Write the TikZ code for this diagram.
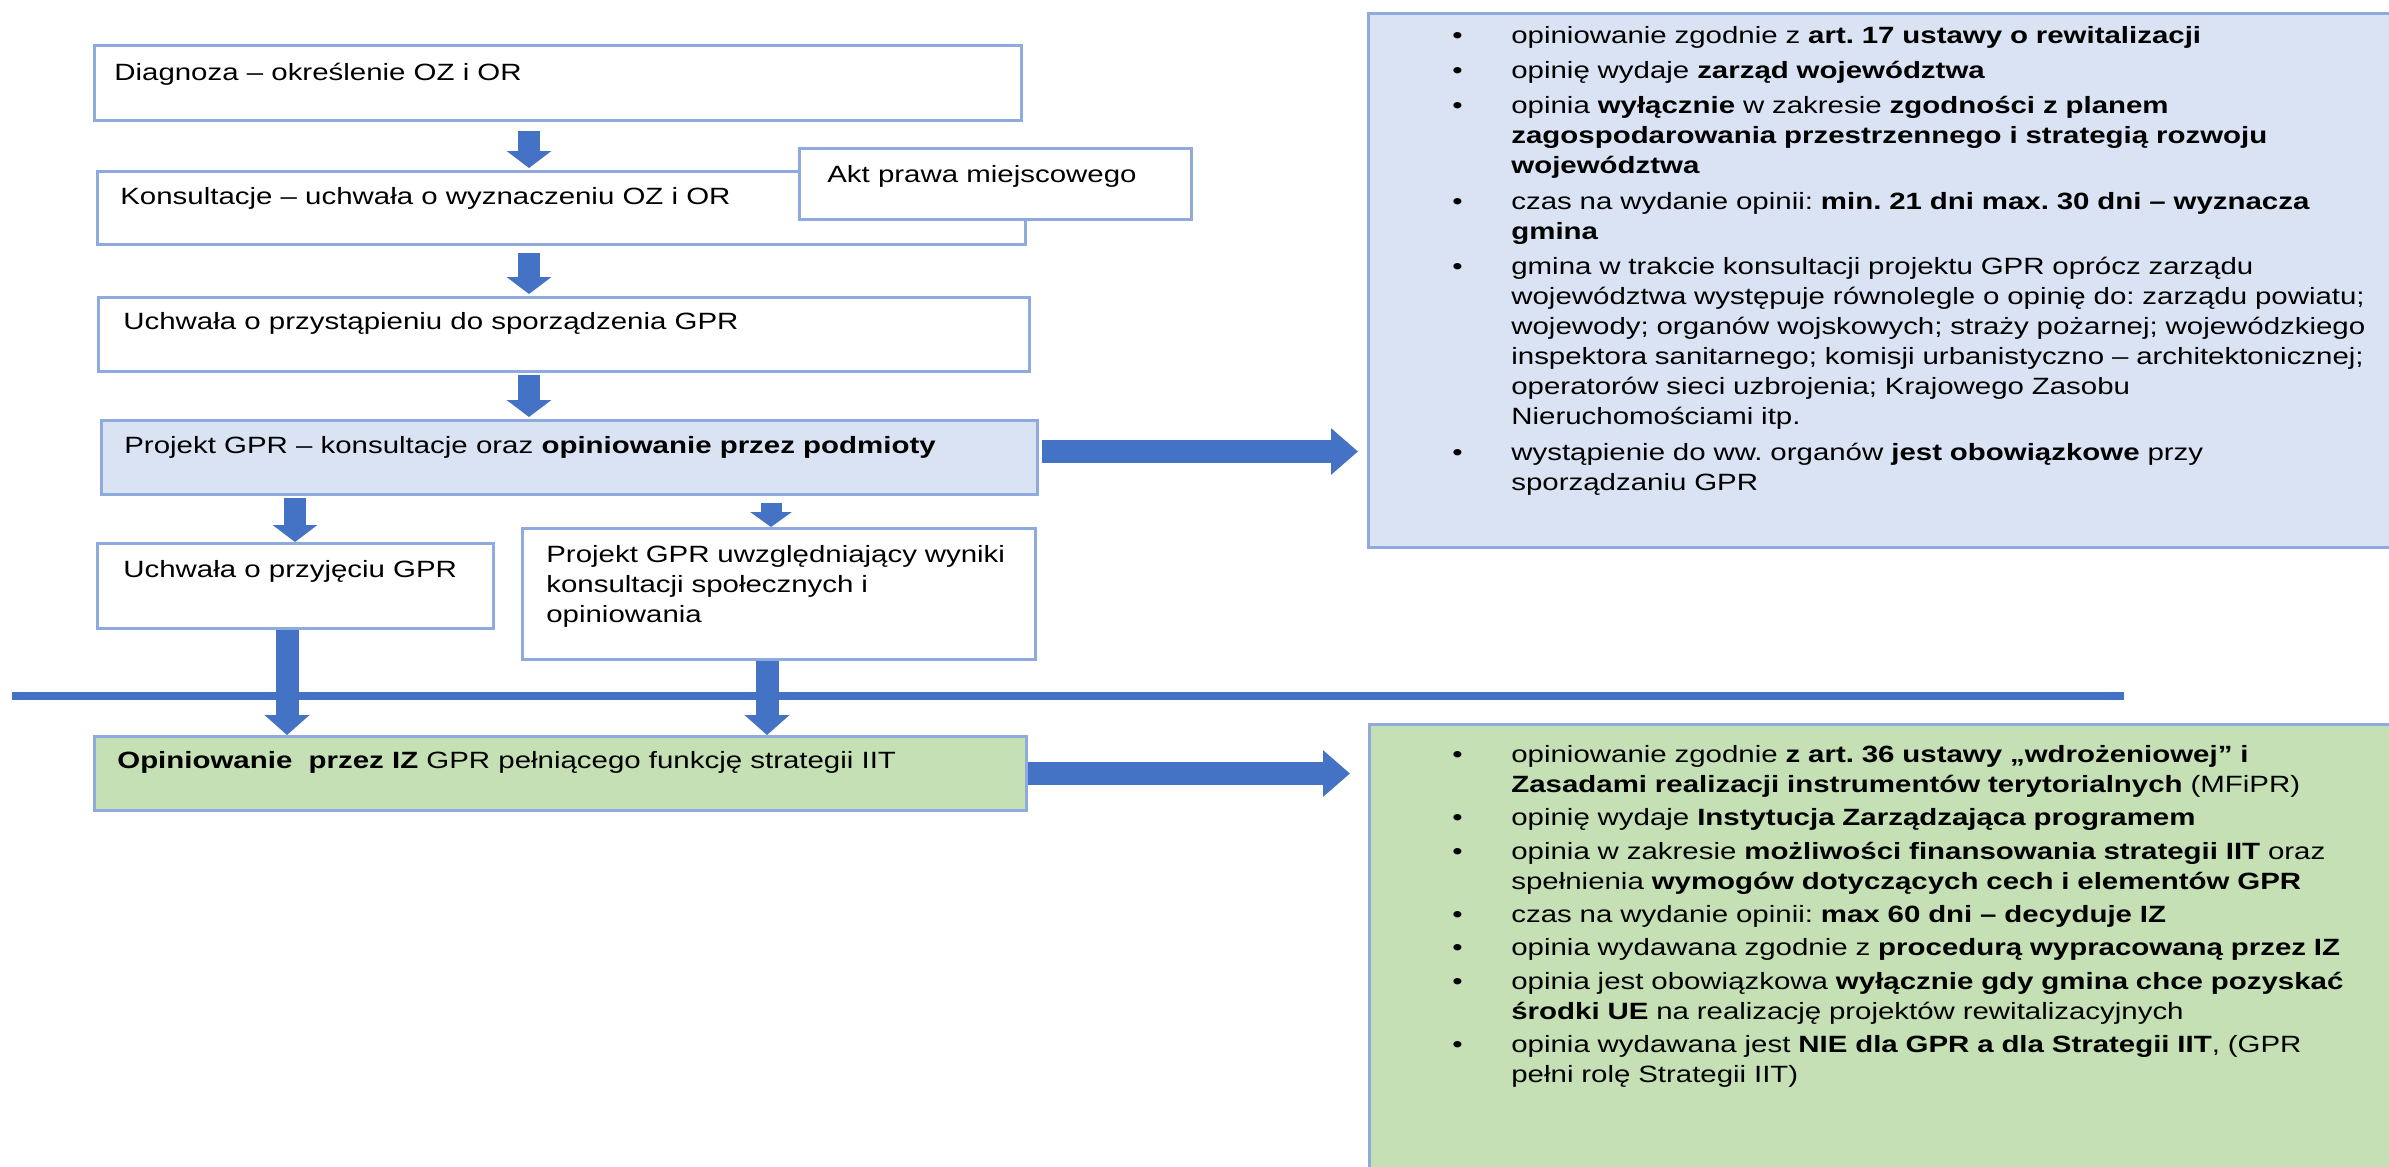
\documentclass[tikz,border=0pt]{standalone}
\usepackage{fontspec}
\setmainfont{Liberation Sans}[FakeStretch=1.25]
\usepackage{tikz}
\usetikzlibrary{shapes,arrows.meta,positioning}
\frenchspacing

\definecolor{niebieski}{HTML}{4472C4}
\definecolor{ramka}{HTML}{8FAADC}
\definecolor{tlopodmioty}{HTML}{DAE3F3}
\definecolor{tloiz}{HTML}{C5E0B4}

\newcommand{\pkt}[1]{\hangindent=11.8mm\hangafter=1\makebox[11.8mm][l]{\textbullet}#1\par}

\begin{document}
\begin{tikzpicture}[x=0.2mm,y=-0.2mm]
	\tikzstyle{blok} = [draw=ramka, shape=rectangle, fill=white, anchor=north west, inner sep=0pt, line width=0.6mm]
	\tikzstyle{opis} = [anchor=base west, inner sep=0pt, font=\fontsize{13.4pt}{17.07pt}\selectfont]
	\tikzstyle{lista} = [opis, text width=200mm, align=left]
	\tikzstyle{strz} = [draw=niebieski, line width=4.4mm, -{Triangle[width=8.8mm,length=3.4mm]}]
	\tikzstyle{strzmala} = [strz, line width=4.2mm, -{Triangle[width=8.2mm,length=3mm]}]
	\tikzstyle{strzdluga} = [strz, line width=4.6mm, -{Triangle[width=8.8mm,length=4mm]}]
	\tikzstyle{strzpoz} = [strz, line width=4.6mm, -{Triangle[width=9mm,length=5.4mm]}]
	\useasboundingbox (0,0) rectangle (2389,1166);
	\clip (0,0) rectangle (2389,1166);
	%Creating Blocks
	\node[blok, minimum width=185.4mm, minimum height=15mm] (diag) at (93,44) {};
	\node[blok, minimum width=185.6mm, minimum height=14.6mm] (kons) at (96,170) {};
	\node[blok, minimum width=78.4mm, minimum height=14.2mm] (akt) at (798,147) {};
	\node[blok, minimum width=186.2mm, minimum height=14.8mm] (przyst) at (97,296) {};
	\node[blok, fill=tlopodmioty, minimum width=187.2mm, minimum height=14.8mm] (projekt) at (100,419) {};
	\node[blok, minimum width=79.2mm, minimum height=17mm] (przyj) at (96,542) {};
	\node[blok, minimum width=102.6mm, minimum height=26.2mm] (uwzgl) at (521,527) {};
	\node[blok, fill=tloiz, minimum width=186.4mm, minimum height=14.8mm] (iz) at (93,735) {};
	\node[blok, fill=tlopodmioty, minimum width=208mm, minimum height=106.8mm] (podmioty) at (1367,12) {};
	\node[blok, fill=tloiz, minimum width=208mm, minimum height=92mm] (iit) at (1368,723) {};
	%Texts in Blocks
	\node[opis] (diag-t) at ([shift={(21,36)}]diag.north west) {Diagnoza – określenie OZ i OR};
	\node[opis] (kons-t) at ([shift={(24,34)}]kons.north west) {Konsultacje – uchwała o wyznaczeniu OZ i OR};
	\node[opis] (akt-t) at ([shift={(29,35)}]akt.north west) {Akt prawa miejscowego};
	\node[opis] (przyst-t) at ([shift={(26,33)}]przyst.north west) {Uchwała o przystąpieniu do sporządzenia GPR};
	\node[opis] (projekt-t) at ([shift={(24,34)}]projekt.north west) {Projekt GPR – konsultacje oraz \textbf{opiniowanie przez podmioty}};
	\node[opis] (przyj-t) at ([shift={(27,35)}]przyj.north west) {Uchwała o przyjęciu GPR};
	\node[opis, text width=100mm, align=left] (uwzgl-t) at ([shift={(25,35)}]uwzgl.north west) {Projekt GPR uwzględniający wyniki\\ konsultacji społecznych i\\ opiniowania};
	\node[opis] (iz-t) at ([shift={(24,33)}]iz.north west) {\textbf{Opiniowanie\ \ przez IZ} GPR pełniącego funkcję strategii IIT};
	\node[lista] (podmioty-t) at ([shift={(85,31)}]podmioty.north west) {\setlength{\parskip}{1.1mm}%
		\pkt{opiniowanie zgodnie z \textbf{art. 17 ustawy o rewitalizacji}}
		\pkt{opinię wydaje \textbf{zarząd województwa}}
		\pkt{opinia \textbf{wyłącznie} w zakresie \textbf{zgodności z planem\newline zagospodarowania przestrzennego i strategią rozwoju\newline województwa}}
		\pkt{czas na wydanie opinii: \textbf{min. 21 dni max. 30 dni – wyznacza\newline gmina}}
		\pkt{gmina w trakcie konsultacji projektu GPR oprócz zarządu\newline województwa występuje równolegle o opinię do: zarządu powiatu;\newline wojewody; organów wojskowych; straży pożarnej; wojewódzkiego\newline inspektora sanitarnego; komisji urbanistyczno – architektonicznej;\newline operatorów sieci uzbrojenia; Krajowego Zasobu\newline Nieruchomościami itp.}
		\pkt{wystąpienie do ww. organów \textbf{jest obowiązkowe} przy\newline sporządzaniu GPR}};
	\node[lista] (iit-t) at ([shift={(84,39)}]iit.north west) {\setlength{\parskip}{0.7mm}%
		\pkt{opiniowanie zgodnie \textbf{z art. 36 ustawy „wdrożeniowej” i\newline Zasadami realizacji instrumentów terytorialnych} (MFiPR)}
		\pkt{opinię wydaje \textbf{Instytucja Zarządzająca programem}}
		\pkt{opinia w zakresie \textbf{możliwości finansowania strategii IIT} oraz\newline spełnienia \textbf{wymogów dotyczących cech i elementów GPR}}
		\pkt{czas na wydanie opinii: \textbf{max 60 dni – decyduje IZ}}
		\pkt{opinia wydawana zgodnie z \textbf{procedurą wypracowaną przez IZ}}
		\pkt{opinia jest obowiązkowa \textbf{wyłącznie gdy gmina chce pozyskać\newline środki UE} na realizację projektów rewitalizacyjnych}
		\pkt{opinia wydawana jest \textbf{NIE dla GPR a dla Strategii IIT}, (GPR\newline pełni rolę Strategii IIT)}};
	%Separating line
	\coordinate (kreska-l) at (12,696);
	\coordinate (kreska-p) at (2124,696);
	\draw[niebieski, line width=1.6mm] (kreska-l) -- (kreska-p);
	%Conecting Blocks
	\coordinate (os) at (529,0);
	\coordinate (os-l) at (295,0);
	\coordinate (os-ld) at (287,0);
	\coordinate (os-p) at (771,0);
	\coordinate (os-pd) at (767,0);
	\coordinate (poziom) at (0,451.5);
	\begin{scope}
	\draw[strz, shorten <=1.8mm, shorten >=0.4mm] (diag.south -| os) -- (kons.north -| os);
	\draw[strz, shorten <=1.4mm, shorten >=0.4mm] (kons.south -| os) -- (przyst.north -| os);
	\draw[strz, shorten <=0.4mm, shorten >=0.4mm] (przyst.south -| os) -- (projekt.north -| os);
	\draw[strz, shorten <=0.4mm] (projekt.south -| os-l) -- (przyj.north -| os-l);
	\draw[strzmala, shorten <=1.4mm] (projekt.south -| os-p) -- (uwzgl.north -| os-p);
	\draw[strzdluga] (przyj.south -| os-ld) -- (iz.north -| os-ld);
	\draw[strzdluga] (uwzgl.south -| os-pd) -- (iz.north -| os-pd);
	\draw[strzpoz, shorten <=0.6mm, shorten >=1.8mm] (projekt.east |- poziom) -- (podmioty.west |- poziom);
	\draw[strzpoz, shorten >=3.6mm] (iz.east) -- (iit.west |- iz.east);
	\end{scope}
\end{tikzpicture}
\end{document}
